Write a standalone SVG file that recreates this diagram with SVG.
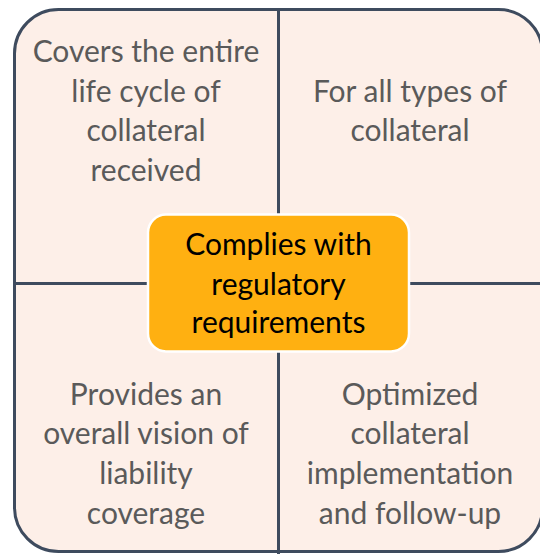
<svg xmlns="http://www.w3.org/2000/svg" width="540" height="554" viewBox="0 0 540 554">
<style>
.q{font-family:Lato,"Open Sans",sans-serif;font-size:30px;fill:#5a5a5a;text-anchor:middle}
.c{font-family:Lato,"Open Sans",sans-serif;font-size:30px;fill:#000;text-anchor:middle}
.ln{stroke:#3e4b5e;stroke-width:3;fill:none}
</style>
<rect x="14.5" y="9.5" width="528" height="542" rx="44" fill="#fdefe8" stroke="#3e4b5e" stroke-width="3"/>
<g id="connectors">
<line class="ln" x1="278.5" y1="9.5" x2="278.5" y2="554"/>
<line class="ln" x1="14.5" y1="283.5" x2="540" y2="283.5"/>
</g>
<g id="tl">
<text class="q" x="146" y="62">Covers the entire</text>
<text class="q" x="146" y="102">life cycle of</text>
<text class="q" x="146" y="141">collateral</text>
<text class="q" x="146" y="181">received</text>
</g>
<g id="tr">
<text class="q" x="410" y="102">For all types of</text>
<text class="q" x="410" y="141">collateral</text>
</g>
<g id="bl">
<text class="q" x="146" y="405">Provides an</text>
<text class="q" x="146" y="444">overall vision of</text>
<text class="q" x="146" y="484">liability</text>
<text class="q" x="146" y="524">coverage</text>
</g>
<g id="br">
<text class="q" x="410" y="405">Optimized</text>
<text class="q" x="410" y="444">collateral</text>
<text class="q" x="410" y="484">implementation</text>
<text class="q" x="410" y="524">and follow-up</text>
</g>
<g id="center">
<rect x="148" y="214.5" width="261" height="137" rx="18" fill="#ffb011" stroke="#ffffff" stroke-width="2.5"/>
<text class="c" x="278.5" y="255">Complies with</text>
<text class="c" x="278.5" y="295">regulatory</text>
<text class="c" x="278.5" y="333">requirements</text>
</g>
</svg>
